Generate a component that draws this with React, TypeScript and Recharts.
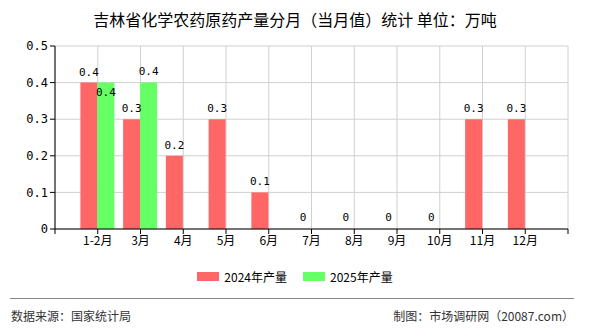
import React from "react";
import { ComposedChart, Bar, Line, XAxis, YAxis, CartesianGrid, LabelList } from "recharts";

const months = ["1-2月", "3月", "4月", "5月", "6月", "7月", "8月", "9月", "10月", "11月", "12月"];
const output2024 = [0.4, 0.3, 0.2, 0.3, 0.1, 0, 0, 0, 0, 0.3, 0.3];
const output2025: (number | null)[] = [0.4, 0.4, null, null, null, null, null, null, null, null, null];
const yTicks = [0, 0.1, 0.2, 0.3, 0.4, 0.5];

const RED = "#ff6666";
const GREEN = "#66ff66";
const FONT = "'Noto Sans CJK SC', 'Noto Sans', sans-serif";
const MONO = "'DejaVu Sans Mono', 'Noto Sans CJK SC', monospace";
const BAR = 17;

// x is a position on a 0..12 linear axis, categories sit on 1..11
const data = months.map((m, i) => ({
  x: i + 1,
  name: m,
  y2024: output2024[i],
  y2025: output2025[i],
}));

const xTicks = Array.from({ length: 13 }, (_, i) => i);

const fmtLabel = (v: any) => (v === 0 ? "0" : Number(v).toFixed(1));

function GreenLabel(props: any) {
  const { x, y, width, value, index } = props;
  if (value == null) return null;
  // first green label is pushed below the bar top so it does not collide with the red one
  const ty = index === 0 ? y + 13 : y - 8;
  return (
    <text x={x + width / 2} y={ty} textAnchor="middle" fontSize={11} fill="#000" fontFamily={MONO}>
      {fmtLabel(value)}
    </text>
  );
}

// zero-height bars draw no label, so the "0" labels ride on an invisible line
function ZeroLabel(props: any) {
  const { x, y, value, index } = props;
  if (value !== 0) return <g key={`z-${index}`} />;
  return (
    <text key={`z-${index}`} x={x - BAR / 2} y={y - 8} textAnchor="middle" fontSize={11} fill="#000" fontFamily={MONO}>
      0
    </text>
  );
}

export default function App() {
  return (
    <div
      style={{
        position: "absolute",
        left: 0,
        top: 0,
        width: 590,
        height: 330,
        background: "#fff",
        fontFamily: FONT,
        overflow: "hidden",
      }}
    >
      <div
        style={{
          position: "absolute",
          top: 7,
          left: 0,
          width: 590,
          textAlign: "center",
          fontSize: 16,
          color: "#000",
        }}
      >
        吉林省化学农药原药产量分月（当月值）统计 单位：万吨
      </div>
      <ComposedChart
        width={590}
        height={330}
        data={data}
        margin={{ top: 46, right: 22, left: 0, bottom: 71 }}
        barGap={0}
        barSize={BAR}
      >
        <CartesianGrid stroke="#d0d0d0" />
        <XAxis
          type="number"
          dataKey="x"
          domain={[0, 12]}
          ticks={xTicks}
          interval={0}
          tickFormatter={(v: number) => months[v - 1] ?? ""}
          axisLine={{ stroke: "#000" }}
          tickLine={{ stroke: "#000" }}
          tickSize={5}
          height={30}
          tick={{ fill: "#000", fontSize: 12, fontFamily: FONT }}
        />
        <YAxis
          domain={[0, 0.5]}
          ticks={yTicks}
          width={55}
          tickFormatter={fmtLabel}
          axisLine={{ stroke: "#000" }}
          tickLine={{ stroke: "#000" }}
          tickSize={5}
          tick={{ fill: "#000", fontSize: 12, fontFamily: MONO }}
        />
        <Bar dataKey="y2024" fill={RED} isAnimationActive={false}>
          <LabelList
            dataKey="y2024"
            position="top"
            offset={7}
            formatter={fmtLabel}
            style={{ fill: "#000", fontSize: 11, fontFamily: MONO }}
          />
        </Bar>
        <Bar dataKey="y2025" fill={GREEN} isAnimationActive={false}>
          <LabelList dataKey="y2025" content={GreenLabel} />
        </Bar>
        <Line
          dataKey="y2024"
          stroke="none"
          dot={false}
          activeDot={false}
          legendType="none"
          isAnimationActive={false}
          label={ZeroLabel}
        />
      </ComposedChart>
      <div
        style={{
          position: "absolute",
          top: 268,
          left: 0,
          width: 590,
          display: "flex",
          justifyContent: "center",
          alignItems: "center",
          fontSize: 12,
          color: "#000",
        }}
      >
        <span style={{ display: "inline-block", width: 22, height: 9, background: RED, marginRight: 5 }} />
        <span style={{ marginRight: 16 }}>2024年产量</span>
        <span style={{ display: "inline-block", width: 22, height: 9, background: GREEN, marginRight: 5 }} />
        <span>2025年产量</span>
      </div>
      <div
        style={{
          position: "absolute",
          top: 298,
          left: 10,
          width: 564,
          borderTop: "1px solid #888",
        }}
      />
      <div style={{ position: "absolute", top: 307, left: 11, fontSize: 12, color: "#333" }}>
        数据来源：国家统计局
      </div>
      <div style={{ position: "absolute", top: 307, right: 16, fontSize: 12, color: "#333" }}>
        制图：市场调研网（20087.com）
      </div>
    </div>
  );
}
